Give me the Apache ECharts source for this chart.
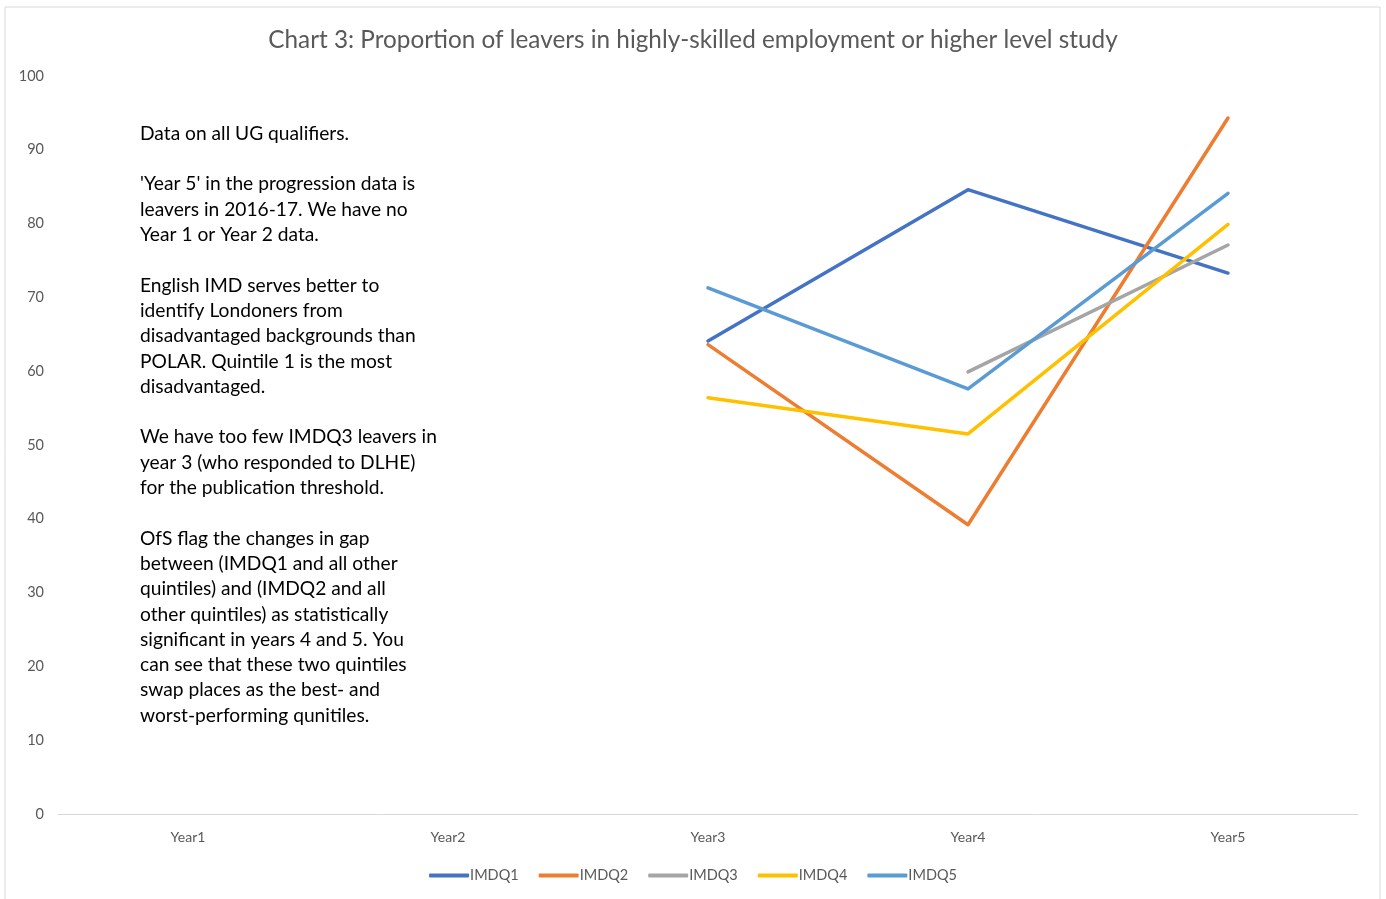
<!DOCTYPE html>
<html><head><meta charset="utf-8">
<script src="https://cdn.jsdelivr.net/npm/echarts@6/dist/echarts.min.js"></script>
<style>html,body{margin:0;padding:0;background:#fff}#c{width:1386px;height:899px}</style>
</head><body><div id="c"></div>
<script>
const categories = ['Year1','Year2','Year3','Year4','Year5'];
const seriesNames = ['IMDQ1','IMDQ2','IMDQ3','IMDQ4','IMDQ5'];
const imdq1 = [null, null, 64.1, 84.6, 73.3];
const imdq2 = [null, null, 63.6, 39.2, 94.3];
const imdq3 = [null, null, null, 59.9, 77.1];
const imdq4 = [null, null, 56.4, 51.5, 79.9];
const imdq5 = [null, null, 71.3, 57.6, 84.1];
const colors = ['#4472C4','#ED7D31','#A5A5A5','#FFC000','#5B9BD5'];
const noteLines = [
 'Data on all UG qualifiers.','',
 "'Year 5' in the progression data is",'leavers in 2016-17. We have no','Year 1 or Year 2 data.','',
 'English IMD serves better to','identify Londoners from','disadvantaged backgrounds than','POLAR. Quintile 1 is the most','disadvantaged.','',
 'We have too few IMDQ3 leavers in','year 3 (who responded to DLHE)','for the publication threshold.','',
 'OfS flag the changes in gap','between (IMDQ1 and all other','quintiles) and (IMDQ2 and all','other quintiles) as statistically','significant in years 4 and 5. You','can see that these two quintiles','swap places as the best- and','worst-performing qunitiles.'
];
const allData = [imdq1, imdq2, imdq3, imdq4, imdq5];
const chart = echarts.init(document.getElementById('c'), null, {renderer:'canvas'});
chart.setOption({
  animation:false,
  backgroundColor:'#fff',
  title:{text:'Chart 3: Proportion of leavers in highly-skilled employment or higher level study',
    left:'center', top:23, textStyle:{fontFamily:'Lato',fontSize:24.3,fontWeight:'normal',color:'#595959'}},
  legend:{bottom:11, left:'center', itemWidth:40, itemHeight:4, itemGap:20,
    icon:'roundRect',
    textStyle:{fontFamily:'Lato',fontSize:14.5,color:'#595959',padding:[0,0,0,-4]},
    data:seriesNames},
  grid:{left:58,right:28,top:76,bottom:85},
  xAxis:{type:'category',data:categories,boundaryGap:true,
    axisLine:{lineStyle:{color:'#d9d9d9',width:1}},axisTick:{show:false},
    axisLabel:{color:'#595959',fontFamily:'Lato',fontSize:14,margin:16}},
  yAxis:{type:'value',min:0,max:100,interval:10,
    axisLine:{show:false},axisTick:{show:false},splitLine:{show:false},
    axisLabel:{color:'#595959',fontFamily:'Lato',fontSize:14.5,margin:14}},
  graphic:[
    {type:'rect',shape:{x:5,y:7,width:1375,height:900},style:{fill:'none',stroke:'#d9d9d9',lineWidth:1},silent:true},
    {type:'text',left:140,top:121,style:{text:noteLines.join('\n'),fontFamily:'Lato',fontSize:19.2,lineHeight:25.3,fill:'#000'}}
  ],
  series: seriesNames.map((n,i)=>({name:n,type:'line',data:allData[i],symbol:'none',
    lineStyle:{width:3.5,color:colors[i],cap:'round',join:'round'},itemStyle:{color:colors[i]},connectNulls:false}))
});
</script></body></html>
